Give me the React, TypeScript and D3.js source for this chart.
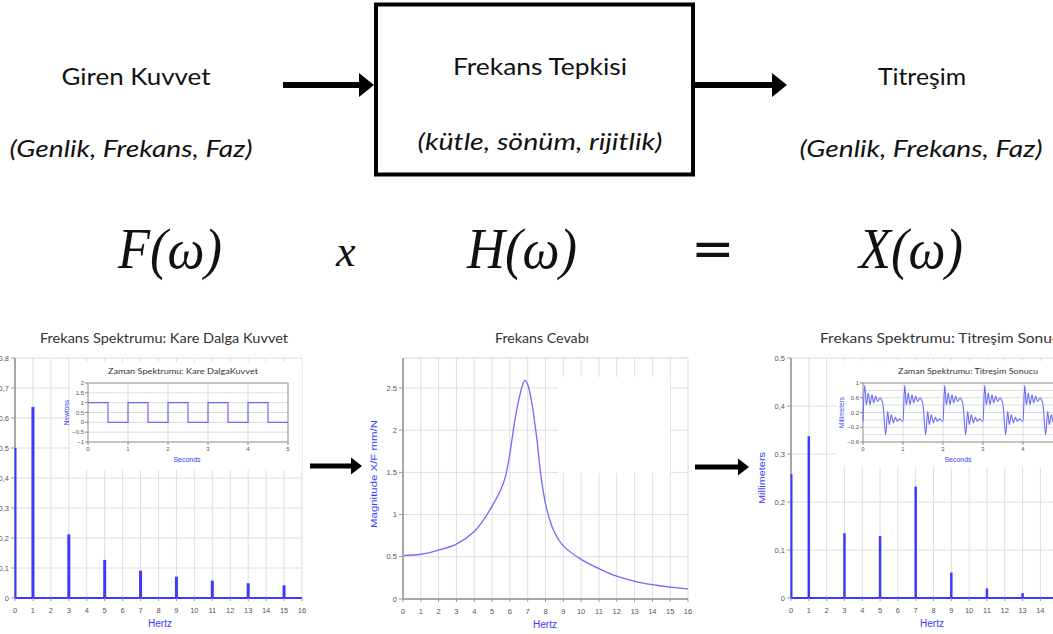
import * as d3 from 'd3';

// ---- top block diagram text
const inputTitle = 'Giren Kuvvet';
const inputSub = '(Genlik, Frekans, Faz)';
const systemTitle = 'Frekans Tepkisi';
const systemSub = '(kütle, sönüm, rijitlik)';
const outputTitle = 'Titreşim';
const outputSub = '(Genlik, Frekans, Faz)';

// ---- chart data
const hertzTicks = [0, 1, 2, 3, 4, 5, 6, 7, 8, 9, 10, 11, 12, 13, 14, 15, 16];

const forceHz = [0, 1, 3, 5, 7, 9, 11, 13, 15];
const forceAmp = [0.5, 0.637, 0.212, 0.127, 0.091, 0.071, 0.058, 0.049, 0.042];
const forceYTicks = [0, 0.1, 0.2, 0.3, 0.4, 0.5, 0.6, 0.7, 0.8];

const secondsTicks = [0, 1, 2, 3, 4, 5];
const squareT = [0, 0.5, 1, 1.5, 2, 2.5, 3, 3.5, 4, 4.5, 5];
const squareN = [1, 0, 1, 0, 1, 0, 1, 0, 1, 0, 0];
const squareYTicks = [-1, -0.5, 0, 0.5, 1, 1.5, 2];

const frfHz = [0, 1, 2, 3, 4, 4.5, 5, 5.5, 5.75, 6, 6.25, 6.5, 6.75, 6.85, 7, 7.25, 7.5, 7.75, 8, 8.25, 8.5, 9, 10, 11, 12, 13, 14, 15, 16];
const frfMag = [0.514, 0.53, 0.58, 0.65, 0.8, 0.93, 1.1, 1.3, 1.45, 1.72, 2.08, 2.36, 2.56, 2.59, 2.54, 2.3, 1.92, 1.45, 1.13, 0.93, 0.79, 0.63, 0.47, 0.36, 0.27, 0.21, 0.17, 0.14, 0.12];
const frfYTicks = [0, 0.5, 1, 1.5, 2, 2.5];

const vibHz = [0, 1, 3, 5, 7, 9, 11, 13, 15];
const vibAmp = [0.258, 0.337, 0.135, 0.129, 0.232, 0.053, 0.02, 0.01, 0.004];
const vibYTicks = [0, 0.1, 0.2, 0.3, 0.4, 0.5];

// one period of the vibration time signal (repeats every second)
const ringT = [0, 0.042, 0.083, 0.133, 0.175, 0.225, 0.267, 0.317, 0.367, 0.425, 0.475, 0.5, 0.567, 0.617, 0.658, 0.708, 0.758, 0.808, 0.858, 0.908, 0.958];
const ringMm = [-0.04, 0.94, 0.41, 0.73, 0.41, 0.68, 0.46, 0.64, 0.5, 0.59, 0.52, 0.41, -0.4, 0.23, -0.13, 0.14, -0.08, 0.07, -0.04, 0.03, -0.02];
const ringPeriods = [0, 1, 2, 3, 4, 5];
const ringYGrid = [-0.6, -0.4, -0.2, 0, 0.2, 0.4, 0.6, 0.8, 1];
const ringYLabels = [-0.6, -0.2, 0.2, 0.6, 1];

type Lin = d3.ScaleLinear<number, number>;

const BLUE = '#3b3bff';
const LIGHTBLUE = '#6b6bff';
const TICK_FONT = "'Liberation Sans', Arial, sans-serif";
const TITLE_FONT = "Lato, 'Open Sans', sans-serif";
const EDGE = 1046; // labels past the right edge are cut in the source too

const comma = (v: number) => (v === 0 ? '0' : d3.format('.1f')(v).replace('.', ','));
const dot = (v: number) => (v === 0 ? '0' : d3.format('~g')(v));

function Grid({ x, y, yTicks }: { x: Lin; y: Lin; yTicks: number[] }) {
  const [yb, yt] = y.range();
  const [xl, xr] = x.range();
  return (
    <g stroke="#dedede" strokeWidth={1}>
      {hertzTicks.map((h) => <line key={'v' + h} x1={x(h)} x2={x(h)} y1={yb} y2={yt} />)}
      {yTicks.map((t) => <line key={'h' + t} x1={xl} x2={xr} y1={y(t)} y2={y(t)} />)}
    </g>
  );
}

function Axes({ x, y, yTicks, fmt, baseColor, hertzX }: { x: Lin; y: Lin; yTicks: number[]; fmt: (v: number) => string; baseColor: string; hertzX: number }) {
  const [yb, yt] = y.range();
  const [xl, xr] = x.range();
  return (
    <g fontFamily={TICK_FONT} fontSize={7.5} fill="#555">
      <line x1={xl} x2={xl} y1={yb} y2={yt} stroke="#a8a8a8" strokeWidth={2} />
      {yTicks.map((t) => (
        <g key={t}>
          <line x1={xl - 4} x2={xl} y1={y(t)} y2={y(t)} stroke="#999" />
          <text x={xl - 6} y={y(t) + 2.6} textAnchor="end">{fmt(t)}</text>
        </g>
      ))}
      <line x1={xl} x2={xr} y1={yb} y2={yb} stroke={baseColor} strokeWidth={2} />
      {hertzTicks.filter((h) => x(h) < EDGE).map((h) => (
        <g key={h}>
          <line x1={x(h)} x2={x(h)} y1={yb} y2={yb + 3} stroke="#999" />
          <text x={x(h)} y={yb + 15} textAnchor="middle">{h}</text>
        </g>
      ))}
      <text x={hertzX} y={yb + 29} textAnchor="middle" fill={BLUE} fontSize={10}>Hertz</text>
    </g>
  );
}

function Stems({ x, y, hz, amp, width }: { x: Lin; y: Lin; hz: number[]; amp: number[]; width: number }) {
  return (
    <g stroke={BLUE}>
      {hz.map((h, i) => (
        <line key={h} x1={x(h) + (h === 0 ? 0.5 : 0)} x2={x(h) + (h === 0 ? 0.5 : 0)} y1={y(0)} y2={y(amp[i])} strokeWidth={h === 0 ? 2 : width} />
      ))}
    </g>
  );
}

function InsetAxes({ x, y, grid, labels, fmt, title, titleX, titleW, yLabel, xLabelX }: {
  x: Lin; y: Lin; grid: number[]; labels: number[]; fmt: (v: number) => string; title: string; titleX: number; titleW: number; yLabel: string; xLabelX: number;
}) {
  const [yb, yt] = y.range();
  const [xl, xr] = x.range();
  return (
    <g fontFamily={TICK_FONT} fontSize={6} fill="#555">
      <g stroke="#dcdcdc">
        {secondsTicks.map((s) => <line key={'v' + s} x1={x(s)} x2={x(s)} y1={yb} y2={yt} />)}
        {grid.map((g) => <line key={'h' + g} x1={xl} x2={xr} y1={y(g)} y2={y(g)} />)}
      </g>
      <rect x={xl} y={yt} width={xr - xl} height={yb - yt} fill="none" stroke="#9a9a9a" />
      {labels.map((t) => (
        <g key={t}>
          <line x1={xl - 3} x2={xl} y1={y(t)} y2={y(t)} stroke="#888" />
          <text x={xl - 4} y={y(t) + 2} textAnchor="end">{fmt(t)}</text>
        </g>
      ))}
      {secondsTicks.filter((s) => x(s) < EDGE).map((s) => (
        <g key={s}>
          <line x1={x(s)} x2={x(s)} y1={yb} y2={yb + 3} stroke="#888" />
          <text x={x(s)} y={yb + 9} textAnchor="middle">{s}</text>
        </g>
      ))}
      <text x={xLabelX} y={yb + 20} textAnchor="middle" fill={BLUE} fontSize={7}>Seconds</text>
      <text transform={`translate(${xl - 19},${(yb + yt) / 2}) rotate(-90)`} textAnchor="middle" fill={BLUE} fontSize={6.5}>{yLabel}</text>
      <text x={titleX} y={yt - 9} textAnchor="middle" fill="#333" fontFamily={TITLE_FONT} fontSize={8}
        textLength={titleW} lengthAdjust="spacingAndGlyphs">{title}</text>
    </g>
  );
}

function Arrow({ x1, x2, y, w, head, hl }: { x1: number; x2: number; y: number; w: number; head: number; hl: number }) {
  return (
    <g fill="#000">
      <rect x={x1} y={y - w / 2} width={x2 - hl - x1 + 1} height={w} />
      <polygon points={`${x2 - hl},${y - head / 2} ${x2},${y} ${x2 - hl},${y + head / 2}`} />
    </g>
  );
}

export default function App() {
  // chart 1: force spectrum
  const x1 = d3.scaleLinear().domain([0, 16]).range([15, 302]);
  const y1 = d3.scaleLinear().domain([0, 0.8]).range([598, 358]);
  const ix1 = d3.scaleLinear().domain([0, 5]).range([88, 288]);
  const iy1 = d3.scaleLinear().domain([-1, 2]).range([442, 383]);
  const squareLine = d3.line<number>().x((_, i) => ix1(squareT[i])).y((v) => iy1(v)).curve(d3.curveStepAfter);

  // chart 2: frequency response
  const x2 = d3.scaleLinear().domain([0, 16]).range([403, 688]);
  const y2 = d3.scaleLinear().domain([0, 2.855]).range([599, 358]);
  const frfLine = d3.line<number>().x((_, i) => x2(frfHz[i])).y((v) => y2(v)).curve(d3.curveCatmullRom.alpha(0.5));

  // chart 3: vibration spectrum
  const x3 = d3.scaleLinear().domain([0, 16]).range([791, 1076]);
  const y3 = d3.scaleLinear().domain([0, 0.5]).range([598, 358]);
  const ix3 = d3.scaleLinear().domain([0, 5]).range([863, 1063]);
  const iy3 = d3.scaleLinear().domain([-0.6, 1]).range([442, 383]);
  const ringPts: [number, number][] = ringPeriods.flatMap((p) => ringT.map((t, i) => [p + t, ringMm[i]] as [number, number]));
  const ringLine = d3.line<[number, number]>().x((d) => ix3(d[0])).y((d) => iy3(d[1])).curve(d3.curveMonotoneX);

  const formulaFont = "'Liberation Serif', 'Times New Roman', serif";

  return (
    <>
      <style>{'body{margin:0}'}</style>
      <svg width={1053} height={634} style={{ display: 'block', background: '#fff' }}>
        {/* block diagram */}
        <g fontFamily={TITLE_FONT} fill="#111" fontSize={23}>
          <text x={136} y={85} textAnchor="middle" textLength={149} lengthAdjust="spacingAndGlyphs">{inputTitle}</text>
          <text x={131} y={157} textAnchor="middle" fontStyle="italic" textLength={243} lengthAdjust="spacingAndGlyphs">{inputSub}</text>
          <text x={540} y={75} textAnchor="middle" textLength={174} lengthAdjust="spacingAndGlyphs">{systemTitle}</text>
          <text x={540} y={150} textAnchor="middle" fontStyle="italic" textLength={245} lengthAdjust="spacingAndGlyphs">{systemSub}</text>
          <text x={922} y={85} textAnchor="middle" textLength={88} lengthAdjust="spacingAndGlyphs">{outputTitle}</text>
          <text x={921} y={157} textAnchor="middle" fontStyle="italic" textLength={243} lengthAdjust="spacingAndGlyphs">{outputSub}</text>
        </g>
        <rect x={376} y={4.5} width={317} height={170} fill="none" stroke="#000" strokeWidth={4} />
        <Arrow x1={283} x2={374} y={85} w={6} head={24} hl={15} />
        <Arrow x1={695} x2={787} y={85} w={6} head={24} hl={15} />

        {/* formula */}
        <g fontFamily={formulaFont} fontSize={58} fill="#111">
          <text x={118} y={268} fontStyle="italic" textLength={104} lengthAdjust="spacingAndGlyphs">F(ω)</text>
          <text x={336} y={266} fontStyle="italic" fontSize={44}>x</text>
          <text x={467} y={268} fontStyle="italic" textLength={110} lengthAdjust="spacingAndGlyphs">H(ω)</text>
          <text x={691} y={266} fontSize={52} fontFamily="'DejaVu Sans', sans-serif">=</text>
          <text x={859} y={268} fontStyle="italic" textLength={104} lengthAdjust="spacingAndGlyphs">X(ω)</text>
        </g>

        {/* arrows between charts */}
        <Arrow x1={310} x2={362} y={466} w={5} head={17} hl={11} />
        <Arrow x1={695} x2={749} y={467} w={5} head={17} hl={11} />

        {/* chart titles */}
        <g fontFamily={TITLE_FONT} fontSize={13} fill="#333">
          <text x={164} y={343} textAnchor="middle" textLength={248} lengthAdjust="spacingAndGlyphs">Frekans Spektrumu: Kare Dalga Kuvvet</text>
          <text x={542} y={343} textAnchor="middle" textLength={94} lengthAdjust="spacingAndGlyphs">Frekans Cevabı</text>
          <text x={820} y={343} textLength={248} lengthAdjust="spacingAndGlyphs">Frekans Spektrumu: Titreşim Sonucu</text>
        </g>

        {/* chart 1 */}
        <Grid x={x1} y={y1} yTicks={forceYTicks} />
        <rect x={70} y={362} width={232} height={108} fill="#fff" />
        <Axes x={x1} y={y1} yTicks={forceYTicks} fmt={comma} baseColor={BLUE} hertzX={160} />
        <Stems x={x1} y={y1} hz={forceHz} amp={forceAmp} width={3} />
        <InsetAxes x={ix1} y={iy1} grid={squareYTicks} labels={squareYTicks} fmt={dot}
          title="Zaman Spektrumu: Kare DalgaKuvvet" titleX={183} titleW={150} yLabel="Newtons" xLabelX={187} />
        <path d={squareLine(squareN) ?? ''} fill="none" stroke={LIGHTBLUE} strokeWidth={1.2} />

        {/* chart 2 */}
        <Grid x={x2} y={y2} yTicks={frfYTicks} />
        <rect x={558} y={377} width={112} height={96} fill="#fff" />
        <line x1={x2.range()[0]} x2={x2.range()[1]} y1={y2.range()[1]} y2={y2.range()[1]} stroke="#cfcfcf" />
        <path d={frfLine(frfMag) ?? ''} fill="none" stroke={LIGHTBLUE} strokeWidth={1.3} />
        <Axes x={x2} y={y2} yTicks={frfYTicks} fmt={dot} baseColor="#a8a8a8" hertzX={545} />
        <text transform={`translate(377,474) rotate(-90)`} textAnchor="middle" fill={BLUE} fontFamily={TICK_FONT} fontSize={9}
          textLength={108} lengthAdjust="spacingAndGlyphs">Magnitude X/F  mm/N</text>

        {/* chart 3 */}
        <Grid x={x3} y={y3} yTicks={vibYTicks} />
        <rect x={837} y={361} width={216} height={106} fill="#fff" />
        <Axes x={x3} y={y3} yTicks={vibYTicks} fmt={comma} baseColor={BLUE} hertzX={932} />
        <Stems x={x3} y={y3} hz={vibHz} amp={vibAmp} width={2.5} />
        <text transform={`translate(765,478) rotate(-90)`} textAnchor="middle" fill={BLUE} fontFamily={TICK_FONT} fontSize={9}
          textLength={52} lengthAdjust="spacingAndGlyphs">Millimeters</text>
        <InsetAxes x={ix3} y={iy3} grid={ringYGrid} labels={ringYLabels} fmt={dot}
          title="Zaman Spektrumu: Titreşim Sonucu" titleX={968} titleW={140} yLabel="Millimeters" xLabelX={958} />
        <path d={ringLine(ringPts) ?? ''} fill="none" stroke={LIGHTBLUE} strokeWidth={1.1} />
      </svg>
    </>
  );
}
